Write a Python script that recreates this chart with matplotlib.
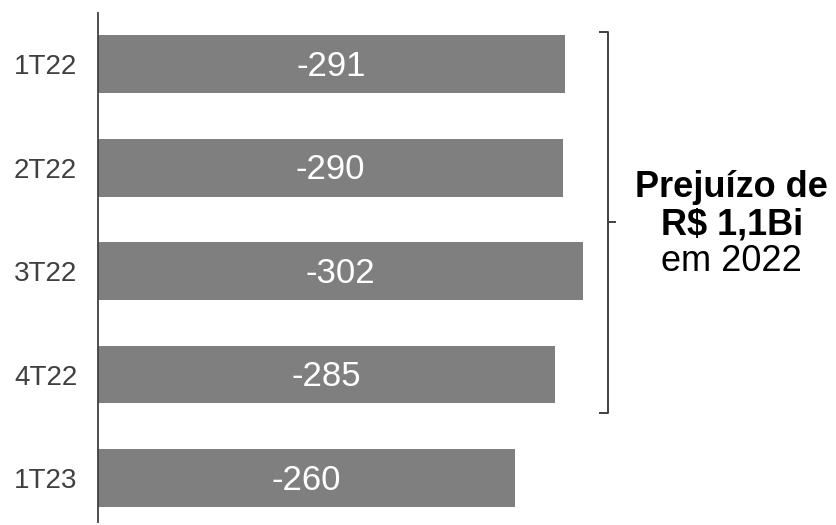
import matplotlib

matplotlib.use("Agg")
import matplotlib.pyplot as plt

plt.rcParams["font.family"] = ["Liberation Sans", "DejaVu Sans"]

# dados (R$ milhões)
quarters = ["1T22", "2T22", "3T22", "4T22", "1T23"]
results = [-291, -290, -302, -285, -260]
note_lines = ["Prejuízo de", "R$ 1,1Bi", "em 2022"]

BAR = "#7f7f7f"
DARK = "#404040"

fig = plt.figure(figsize=(8.36, 5.25), dpi=100)
ax = fig.add_axes([98 / 836, 3 / 525, 1 - 98 / 836, 509 / 525])

pos = list(range(len(quarters)))
widths = [abs(v) for v in results]
ax.barh(pos, widths, height=0.56, color=BAR)
for p, v in zip(pos, results):
    ax.text(abs(v) / 2, p + 0.02, f"{v}", ha="center", va="center", color="white", fontsize=25)

ax.set_xlim(0, 460)
ax.set_ylim(4.425, -0.493)
ax.set_yticks(pos)
ax.set_yticklabels(quarters, fontsize=20, color=DARK)
ax.tick_params(axis="y", length=0, pad=15)
ax.set_xticks([])
for s in ["top", "right", "bottom"]:
    ax.spines[s].set_visible(False)
ax.spines["left"].set_color(DARK)
ax.spines["left"].set_linewidth(1.3)

# chave à direita (2022)
bx, hook, tick = 318, 313, 322.5
top, bot = -0.31, 3.37
mid = (top + bot) / 2
ax.plot([hook, bx, bx, hook], [top, top, bot, bot], color=DARK, lw=1.4, clip_on=False)
ax.plot([bx, tick], [mid, mid], color=DARK, lw=1.4, clip_on=False)

ax.text(395, mid - 0.34, note_lines[0], ha="center", va="center", fontsize=26, fontweight="bold")
ax.text(395, mid + 0.03, note_lines[1], ha="center", va="center", fontsize=26, fontweight="bold")
ax.text(395, mid + 0.38, note_lines[2], ha="center", va="center", fontsize=26)

plt.savefig("out.png", dpi=100)
plt.close()
